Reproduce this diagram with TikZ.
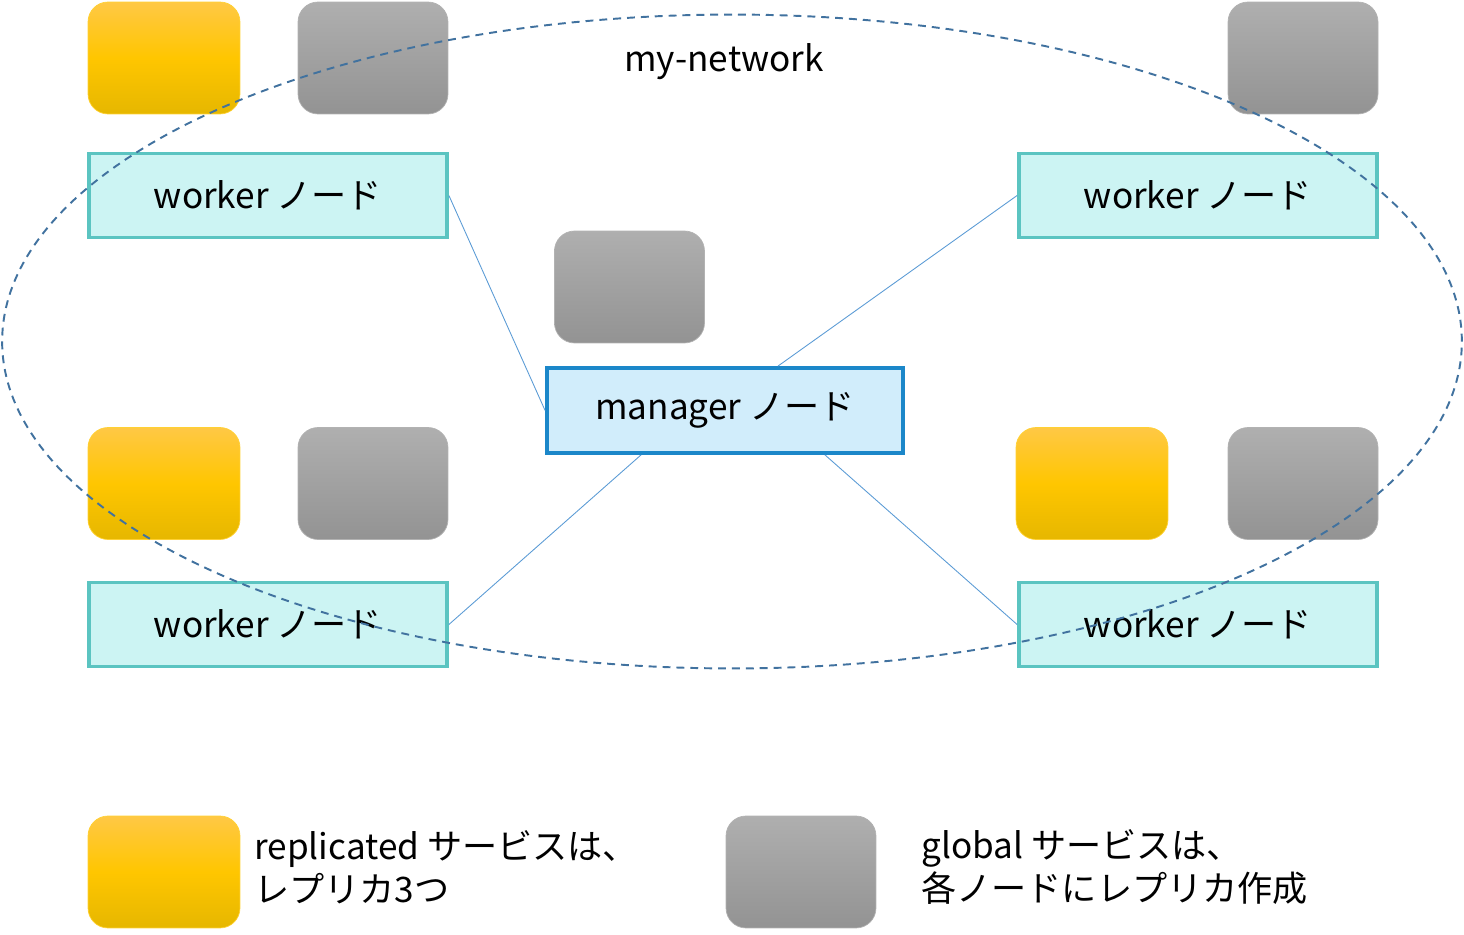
\documentclass[tikz,border=0pt]{standalone}
\usepackage{fontspec}
\setmainfont{Noto Sans CJK JP}
\usepackage{xcolor}
\usepackage{tikz}

\definecolor{workerline}{HTML}{5BC4C1}
\definecolor{workerfill}{HTML}{CCF4F3}
\definecolor{managerline}{HTML}{1B87C9}
\definecolor{managerfill}{HTML}{D1EDFB}
\definecolor{netline}{HTML}{41729F}
\definecolor{linkline}{HTML}{5B9BD5}
\definecolor{reptop}{HTML}{FFC845}
\definecolor{repmid}{HTML}{FFC600}
\definecolor{repbot}{HTML}{E6B700}
\definecolor{glotop}{HTML}{AFAFAF}
\definecolor{globot}{HTML}{939393}

\begin{document}
\begin{tikzpicture}[x=0.02cm,y=-0.02cm,
font=\fontsize{20}{24.5}\selectfont,
worker/.style={draw=workerline,fill=workerfill,line width=2.2pt,
  minimum width=7.16cm,minimum height=1.68cm},
manager/.style={draw=managerline,fill=managerfill,line width=2.2pt,
  minimum width=7.12cm,minimum height=1.7cm},
replicated/.style={rounded corners=0.4cm,minimum width=3.04cm,minimum height=2.24cm,
  draw=repmid!80,top color=reptop,bottom color=repbot,middle color=repmid},
global/.style={rounded corners=0.4cm,minimum width=3cm,minimum height=2.24cm,
  draw=gray!60,top color=glotop,bottom color=globot},
link/.style={draw=linkline,line width=0.5pt}]
\useasboundingbox (0,0) rectangle (1464,935);

% services
\node[replicated] (repTL) at (164,58) {};
\node[global] (gloTL) at (373,58) {};
\node[global] (gloTR) at (1303,58) {};
\node[global] (gloM) at (629.5,287) {};
\node[replicated] (repBL) at (164,483.5) {};
\node[global] (gloBL) at (373,483.5) {};
\node[replicated] (repBR) at (1092,483.5) {};
\node[global] (gloBR) at (1303,483.5) {};

% nodes
\node[worker] (wTL) at (268,195.5) {worker ノード};
\node[worker] (wTR) at (1198,195.5) {worker ノード};
\node[worker] (wBL) at (268,624.5) {worker ノード};
\node[worker] (wBR) at (1198,624.5) {worker ノード};
\node[manager] (mgr) at (725,410.5) {manager ノード};

\draw[link] (wTL.east) -- (mgr.west);
\draw[link] ([xshift=1.06cm]mgr.north) -- (wTR.west);
\draw[link] ([xshift=-1.68cm]mgr.south) -- (wBL.east);
\draw[link] ([xshift=2cm]mgr.south) -- (wBR.west);

% network
\draw[netline,line width=1.1pt,dash pattern=on 4.5pt off 3.4pt]
  (732,341.5) ellipse [x radius=14.6cm,y radius=6.54cm];
\node (net) at (724,62) {my-network};

% legend
\node[replicated] (repKey) at (164,872) {};
\node[global] (gloKey) at (801,872) {};
\begin{scope}[every node/.style={right,align=left,inner sep=0pt}]
  \node (repText) at (254,867) {replicated サービスは、\\レプリカ3つ};
  \node (gloText) at (921,867) {global サービスは、\\各ノードにレプリカ作成};
\end{scope}

\end{tikzpicture}
\end{document}
